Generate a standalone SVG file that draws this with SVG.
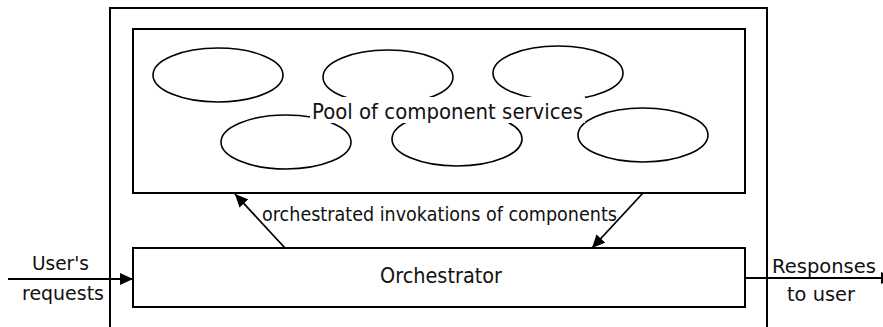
<svg xmlns="http://www.w3.org/2000/svg" width="883" height="327" viewBox="0 0 883 327">
<style>
.box{fill:none;stroke:#000;stroke-width:2}
.svc{fill:none;stroke:#000;stroke-width:1.6}
.t{font-family:"DejaVu Sans","Verdana",sans-serif;fill:#111}
.ln{stroke:#000;stroke-width:1.8;fill:none}
</style>
<defs>
<marker id="ah" markerUnits="userSpaceOnUse" markerWidth="14" markerHeight="12" refX="13" refY="6" orient="auto">
<path d="M0,0 L13,6 L0,12 z" fill="#000"/>
</marker>
</defs>
<rect width="883" height="327" fill="#fff"/>
<g id="system"><rect class="box" x="110" y="8" width="657" height="330"/></g>
<g id="pool">
<rect class="box" x="133" y="29" width="612" height="164"/>
<ellipse class="svc" cx="218" cy="75" rx="65" ry="27"/>
<ellipse class="svc" cx="388" cy="77" rx="65" ry="27"/>
<ellipse class="svc" cx="558" cy="73" rx="65" ry="27"/>
<ellipse class="svc" cx="286" cy="142" rx="65" ry="27"/>
<ellipse class="svc" cx="457" cy="139" rx="65" ry="27"/>
<ellipse class="svc" cx="643" cy="135" rx="65" ry="27"/>
<rect x="310" y="97" width="275" height="26" fill="#fff"/>
<text class="t" x="312" y="119" font-size="22" textLength="271" lengthAdjust="spacingAndGlyphs">Pool of component services</text>
</g>
<g id="orchestrator">
<rect class="box" x="133" y="248" width="612" height="59"/>
<text class="t" x="380" y="283" font-size="21" textLength="122" lengthAdjust="spacingAndGlyphs">Orchestrator</text>
</g>
<g id="connectors">
<line class="ln" x1="8" y1="279" x2="133" y2="279" marker-end="url(#ah)"/>
<line class="ln" x1="285" y1="248" x2="235" y2="194" marker-end="url(#ah)"/>
<line class="ln" x1="643" y1="193" x2="592" y2="248" marker-end="url(#ah)"/>
<line class="ln" x1="745" y1="278" x2="894" y2="278" marker-end="url(#ah)"/>
</g>
<g id="labels">
<text class="t" x="262" y="221" font-size="19" textLength="355" lengthAdjust="spacingAndGlyphs">orchestrated invokations of components</text>
<text class="t" x="32" y="270" font-size="20" textLength="57" lengthAdjust="spacingAndGlyphs">User's</text>
<text class="t" x="22" y="300" font-size="20" textLength="82" lengthAdjust="spacingAndGlyphs">requests</text>
<text class="t" x="772" y="273" font-size="20" textLength="104" lengthAdjust="spacingAndGlyphs">Responses</text>
<text class="t" x="787" y="301" font-size="20" textLength="68" lengthAdjust="spacingAndGlyphs">to user</text>
</g>
</svg>
